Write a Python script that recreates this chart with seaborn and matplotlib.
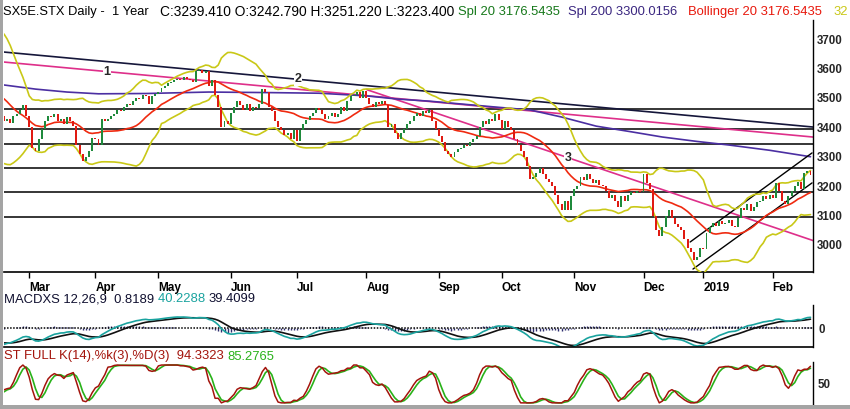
import numpy as np
import pandas as pd
import matplotlib
matplotlib.use('Agg')
import matplotlib.pyplot as plt
from matplotlib.patches import Rectangle
import seaborn as sns

# daily closes, one list per month
# warm-up bars before the visible window (Dec 2017 - mid Feb 2018), used only for the indicators
prior_closes = [3560, 3580, 3600, 3590, 3595, 3580, 3570, 3590, 3600, 3580, 3575, 3550,
                3560, 3570, 3560, 3545, 3530, 3504,
                3490, 3530, 3560, 3600, 3610, 3605, 3590, 3580, 3600, 3610, 3615, 3620,
                3640, 3650, 3630, 3645, 3655, 3640, 3620, 3610, 3600,
                3580, 3520, 3470, 3400, 3440, 3380, 3330, 3370, 3370, 3400, 3420, 3440]
closes_feb18 = [3420, 3430, 3415, 3440, 3445, 3460, 3475, 3440]
closes_mar18 = [3400, 3330, 3320, 3360, 3395, 3420, 3440, 3435, 3445, 3420, 3430,
                3410, 3435, 3420, 3405, 3340, 3310, 3285, 3300, 3320, 3365]
closes_apr18 = [3360, 3340, 3430, 3420, 3430, 3440, 3445, 3460, 3455, 3470,
                3480, 3475, 3490, 3500, 3495, 3510, 3505, 3480, 3505, 3515]
closes_may18 = [3520, 3535, 3540, 3550, 3555, 3560, 3565, 3560, 3570, 3565, 3560, 3555,
                3590, 3595, 3585, 3590, 3540, 3560, 3510, 3470, 3400, 3420, 3410]
closes_jun18 = [3450, 3470, 3490, 3475, 3460, 3480, 3455, 3470, 3465, 3480, 3530,
                3520, 3470, 3455, 3420, 3400, 3390, 3375, 3380, 3360, 3390]
closes_jul18 = [3355, 3390, 3410, 3425, 3440, 3450, 3465, 3460, 3445, 3430, 3440,
                3450, 3435, 3445, 3470, 3455, 3490, 3505, 3510, 3520, 3500, 3525]
closes_aug18 = [3500, 3480, 3470, 3485, 3480, 3490, 3475, 3400, 3410, 3380, 3360, 3380,
                3395, 3410, 3420, 3440, 3450, 3440, 3455, 3450, 3460, 3420, 3395]
closes_sep18 = [3370, 3350, 3320, 3310, 3300, 3315, 3325, 3330, 3340, 3335,
                3350, 3360, 3370, 3400, 3420, 3410, 3430, 3420, 3445, 3425]
closes_oct18 = [3395, 3420, 3400, 3390, 3360, 3340, 3320, 3300, 3270, 3225, 3230, 3245,
                3260, 3240, 3225, 3215, 3200, 3170, 3140, 3120, 3150, 3120, 3165]
closes_nov18 = [3190, 3200, 3230, 3220, 3240, 3225, 3210, 3220, 3205, 3200, 3185,
                3160, 3170, 3150, 3130, 3165, 3150, 3170, 3180, 3175, 3185, 3180]
closes_dec18 = [3240, 3210, 3190, 3100, 3050, 3030, 3060, 3100, 3120, 3090,
                3070, 3060, 3050, 3020, 2990, 2975, 2950, 2960, 2990]
closes_jan19 = [2985, 3040, 3060, 3075, 3065, 3080, 3070, 3075, 3085, 3065, 3060,
                3090, 3125, 3120, 3140, 3115, 3130, 3145, 3150, 3165, 3155, 3170]
closes_feb19 = [3160, 3210, 3185, 3150, 3140, 3165, 3185, 3200, 3215, 3190, 3245, 3250, 3239]

month_names = ['Mar', 'Apr', 'May', 'Jun', 'Jul', 'Aug', 'Sep', 'Oct', 'Nov', 'Dec', '2019', 'Feb']

# 200-day average, read at a few bars
sma200_bars = [0, 10, 20, 30, 45, 65, 85, 100, 115, 125, 135, 156, 167, 177, 188, 199, 209, 220, 230, 243, 256]
sma200_vals = [3544, 3530, 3520, 3514, 3515, 3520, 3518, 3516, 3507, 3496, 3489,
               3469, 3459, 3435, 3404, 3385, 3367, 3352, 3340, 3322, 3300]

# horizontal levels and drawn trendlines (bar, price)
levels = [3462, 3394, 3343, 3261, 3180, 3095]
trend1_bars, trend1_vals = [0, 256.8], [3622, 3367]
trend2_bars, trend2_vals = [0, 256.8], [3656, 3401]
trend3_bars, trend3_vals = [115.2, 256.8], [3528, 3015]
chan_up_bars, chan_up_vals = [217.8, 256.5], [3010, 3313]
chan_lo_bars, chan_lo_vals = [218.7, 256.5], [2918, 3211]

price_ticks = [3000, 3100, 3200, 3300, 3400, 3500, 3600, 3700]

sns.set_theme(style='white')
plt.rcParams['font.family'] = ['Liberation Sans', 'DejaVu Sans']

months = [closes_feb18, closes_mar18, closes_apr18, closes_may18, closes_jun18, closes_jul18,
          closes_aug18, closes_sep18, closes_oct18, closes_nov18, closes_dec18, closes_jan19, closes_feb19]
closes = np.concatenate(months).astype(float)
opens = np.concatenate([[prior_closes[-1]], closes[:-1]])
bars = np.arange(len(closes))
month_starts = np.cumsum([len(m) for m in months])[:-1]

# indicators from the closes
full = pd.Series(prior_closes + list(closes), dtype=float)
k0 = len(prior_closes)
sma20 = full.rolling(20).mean().to_numpy()[k0:]
sd20 = full.rolling(20).std(ddof=0).to_numpy()[k0:]
ema12 = full.ewm(span=12, adjust=False).mean()
ema26 = full.ewm(span=26, adjust=False).mean()
macd_s = ema12 - ema26
signal_s = macd_s.ewm(span=9, adjust=False).mean()
macd = macd_s.to_numpy()[k0:]
signal = signal_s.to_numpy()[k0:]
hist = macd - signal
lo14 = full.rolling(14).min()
hi14 = full.rolling(14).max()
raw_k = 100 * (full - lo14) / (hi14 - lo14)
pct_k_s = raw_k.rolling(3).mean()
pct_k = pct_k_s.to_numpy()[k0:]
pct_d = pct_k_s.rolling(3).mean().to_numpy()[k0:]

W, H = 850, 409
fig = plt.figure(figsize=(W / 100, H / 100), dpi=100)
fig.patch.set_facecolor('white')


def px_axes(x0, y0, x1, y1):
    return fig.add_axes([x0 / W, 1 - y1 / H, (x1 - x0) / W, (y1 - y0) / H])


ax = px_axes(4, 20, 813, 272)
ax_m = px_axes(4, 305, 813, 347)
ax_s = px_axes(4, 362, 813, 404)
XL = (0, 256.8)

# ---- price panel
for lv in levels:
    ax.axhline(lv, color='black', lw=1.1, zorder=1)

sns.lineplot(x=trend2_bars, y=trend2_vals, ax=ax, color='#15163a', lw=1.2, zorder=2)
sns.lineplot(x=trend1_bars, y=trend1_vals, ax=ax, color='#de2f8a', lw=1.2, zorder=2)
sns.lineplot(x=trend3_bars, y=trend3_vals, ax=ax, color='#de2f8a', lw=1.2, zorder=2)
sns.lineplot(x=sma200_bars, y=sma200_vals, ax=ax, color='#4b2fa2', lw=1.2, zorder=2)
sns.lineplot(x=chan_up_bars, y=chan_up_vals, ax=ax, color='black', lw=1.0, zorder=2)
sns.lineplot(x=chan_lo_bars, y=chan_lo_vals, ax=ax, color='black', lw=1.0, zorder=2)

sns.lineplot(x=bars, y=sma20 + 2 * sd20, ax=ax, color='#c9c817', lw=1.2, zorder=3)
sns.lineplot(x=bars, y=sma20 - 2 * sd20, ax=ax, color='#c9c817', lw=1.2, zorder=3)
sns.lineplot(x=bars, y=sma20, ax=ax, color='#ef2a10', lw=1.2, zorder=3)

up = closes >= opens
ax.bar(bars[up], (closes - opens)[up], bottom=opens[up], width=0.62,
       color='#1f8a3c', linewidth=0, zorder=4)
ax.bar(bars[~up], (closes - opens)[~up], bottom=opens[~up], width=0.62,
       color='#e01a12', linewidth=0, zorder=4)

for lab, tb, tv, bpos in [('1', trend1_bars, trend1_vals, 32.7),
                          ('2', trend2_bars, trend2_vals, 93.3),
                          ('3', trend3_bars, trend3_vals, 179.0)]:
    ax.text(bpos, np.interp(bpos, tb, tv), lab, fontsize=9, fontweight='bold',
            ha='center', va='center', zorder=5,
            bbox=dict(facecolor='white', edgecolor='none', pad=0.6))

ax.set_xlim(*XL)
ax.set_ylim(2908, 3765)
ax.set_xticks(month_starts)
ax.set_xticklabels(month_names, ha='left', fontsize=8.5, fontweight='bold')
ax.tick_params(axis='x', direction='out', length=4.5, width=1, pad=3,
               colors='black', bottom=True)
ax.yaxis.tick_right()
ax.set_yticks(price_ticks)
ax.set_yticklabels([str(v) for v in price_ticks], fontsize=8.3, fontweight='bold')
ax.tick_params(axis='y', length=0, pad=3)
ax.set_xlabel('')
ax.set_ylabel('')

# ---- MACD panel
MACD_LIM = (-58, 72)
ax_h = ax_m.twinx()
ax_h.vlines(bars, 0, hist, color='#2d2d6e', lw=1.0)
ax_h.set_ylim(MACD_LIM[0] * 1.8, MACD_LIM[1] * 1.8)
ax_h.set_yticks([])
for sp in ax_h.spines.values():
    sp.set_visible(False)
ax_m.set_zorder(ax_h.get_zorder() + 1)
ax_m.patch.set_visible(False)
ax_m.axhline(0, color='black', lw=1.1, ls=(0, (1, 1)))
sns.lineplot(x=bars, y=signal, ax=ax_m, color='#111111', lw=1.2)
sns.lineplot(x=bars, y=macd, ax=ax_m, color='#1aa39f', lw=1.2)
ax_m.set_xlim(*XL)
ax_h.set_xlim(*XL)
ax_m.set_ylim(*MACD_LIM)
ax_m.set_xticks([])
ax_m.yaxis.tick_right()
ax_m.set_yticks([0])
ax_m.set_yticklabels(['0'], fontsize=8.3, fontweight='bold')
ax_m.tick_params(axis='y', length=0, pad=4)
ax_m.set_xlabel('')
ax_m.set_ylabel('')

# ---- stochastic panel
sns.lineplot(x=bars, y=pct_d, ax=ax_s, color='#29b21a', lw=1.2)
sns.lineplot(x=bars, y=pct_k, ax=ax_s, color='#a3140c', lw=1.1)
ax_s.set_xlim(*XL)
ax_s.set_ylim(-3, 108)
ax_s.set_xticks([])
ax_s.yaxis.tick_right()
ax_s.set_yticks([50])
ax_s.set_yticklabels(['50'], fontsize=8.3, fontweight='bold')
ax_s.tick_params(axis='y', length=0, pad=3)
ax_s.set_xlabel('')
ax_s.set_ylabel('')

for a, show_bottom in [(ax, True), (ax_m, True), (ax_s, False)]:
    for side in ['top', 'left']:
        a.spines[side].set_visible(False)
    a.spines['bottom'].set_visible(show_bottom)
    a.spines['right'].set_color('black')
    a.spines['bottom'].set_color('black')
    a.spines['right'].set_linewidth(1.0)
    a.spines['bottom'].set_linewidth(1.2)
    a.set_facecolor('none')


# ---- coloured header rows
def text_at(x_px, y_px, s, color, size=9.4):
    return fig.text(x_px / W, 1 - y_px / H, s, color=color, fontsize=size,
                    ha='left', va='center')


def text_row(x_px, y_px, parts, size=9.4):
    t = text_at(x_px, y_px, parts[0][0], parts[0][1], size)
    for s, c in parts[1:]:
        t = ax.annotate(s, xy=(1, 0), xycoords=t, ha='left', va='bottom',
                        color=c, fontsize=size, annotation_clip=False)


text_at(3, 12, 'SX5E.STX Daily -  1 Year', 'black', 9.3)
text_at(160, 12, 'C:3239.410 O:3242.790 H:3251.220 L:3223.400', 'black', 9.9)
text_at(458, 12, 'Spl 20 3176.5435', '#16781a')
text_at(568, 12, 'Spl 200 3300.0156', '#3a2680')
text_at(688, 12, 'Bollinger 20 3176.5435', '#e8180c')
text_at(833, 12, '32', '#c9c817')
text_row(4, 299.5, [('MACDXS 12,26,9  0.8189 ', '#101030'),
                    ('40.2288 ', '#1aa39f'),
                    ('39.4099', '#101030')])
text_row(4, 356.5, [('ST FULL K(14),%k(3),%D(3)  94.3323 ', '#a3140c'),
                    ('85.2765', '#29b21a')])

# window frame
fig.add_artist(Rectangle((0, 0), 3 / W, 1, transform=fig.transFigure,
                         facecolor='#a4a4a4', edgecolor='none'))
fig.add_artist(Rectangle((0, 0), 1, 4 / H, transform=fig.transFigure,
                         facecolor='#a4a4a4', edgecolor='none'))

fig.savefig('out.png', dpi=100)
